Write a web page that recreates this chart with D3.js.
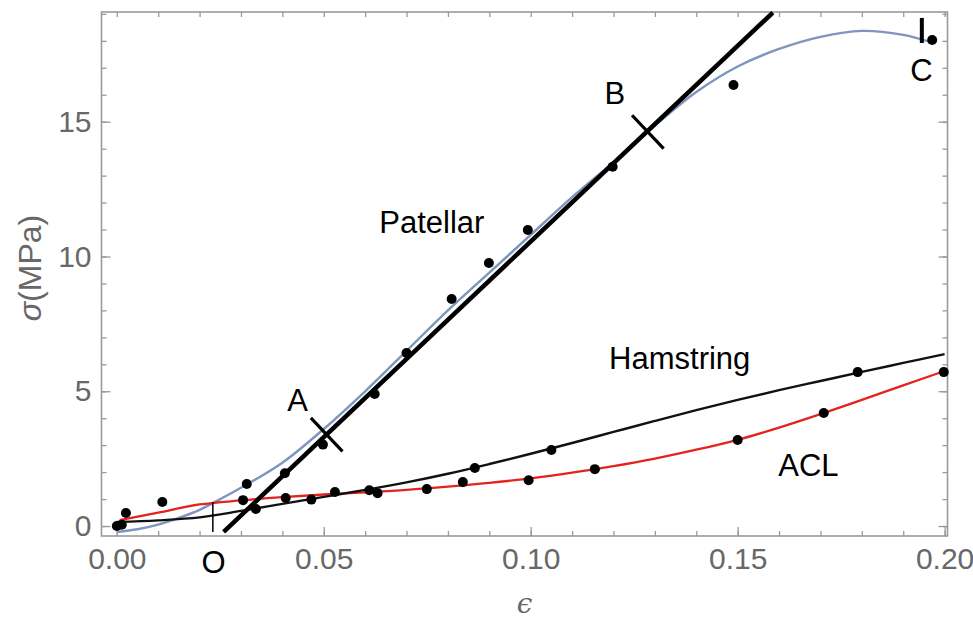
<!DOCTYPE html>
<html>
<head>
<meta charset="utf-8">
<style>
  body { margin: 0; background: #fff; }
  svg { display: block; }
  .tick text { font-family: "Liberation Sans", Arial, sans-serif; }
</style>
</head>
<body>
<div id="chart"></div>
<script src="https://d3js.org/d3.v7.min.js"></script>
<script>
// measured points (strain, stress in MPa)
var patellarE = [0, 0.0314, 0.0406, 0.0498, 0.0623, 0.0700, 0.0809, 0.0899, 0.0993, 0.1198, 0.149, 0.197]
var patellarS = [0, 1.56, 1.96, 3.02, 4.90, 6.42, 8.42, 9.76, 10.98, 13.33, 16.36, 18.03]
var hamE = [0.0012, 0.0336, 0.047, 0.061, 0.0865, 0.105, 0.179]
var hamS = [0.05, 0.63, 0.98, 1.33, 2.15, 2.82, 5.71]
var aclE = [0.0022, 0.011, 0.0305, 0.0408, 0.0527, 0.063, 0.0749, 0.0836, 0.0995, 0.1155, 0.15, 0.1708, 0.1998]
var aclS = [0.48, 0.89, 0.96, 1.04, 1.26, 1.22, 1.37, 1.63, 1.70, 2.11, 3.19, 4.19, 5.71]

// fitted curves
var patFitE = [0, 0.005, 0.01, 0.015, 0.02, 0.025, 0.03, 0.04, 0.05, 0.06, 0.07, 0.08, 0.09, 0.10, 0.11, 0.12, 0.13, 0.14, 0.15, 0.16, 0.17, 0.18, 0.19, 0.1965]
var patFitS = [-0.22, -0.12, 0.05, 0.3, 0.6, 1.0, 1.42, 2.35, 3.6, 5.0, 6.5, 8.0, 9.4, 10.8, 12.2, 13.5, 14.85, 16.1, 17.05, 17.7, 18.15, 18.37, 18.22, 17.96]
var hamFitE = [0, 0.01, 0.02, 0.03, 0.04, 0.05, 0.06, 0.07, 0.08, 0.09, 0.10, 0.11, 0.12, 0.13, 0.14, 0.15, 0.16, 0.17, 0.18, 0.19, 0.20]
var hamFitS = [0.15, 0.21, 0.32, 0.56, 0.82, 1.08, 1.34, 1.62, 1.94, 2.3, 2.68, 3.08, 3.49, 3.9, 4.3, 4.68, 5.04, 5.38, 5.72, 6.05, 6.38]
var aclFitE = [0.0007, 0.01, 0.02, 0.03, 0.04, 0.05, 0.06, 0.07, 0.08, 0.09, 0.10, 0.11, 0.12, 0.13, 0.14, 0.15, 0.16, 0.17, 0.18, 0.19, 0.20]
var aclFitS = [0.22, 0.5, 0.8, 0.95, 1.07, 1.17, 1.25, 1.34, 1.46, 1.6, 1.77, 1.98, 2.22, 2.5, 2.83, 3.2, 3.65, 4.15, 4.68, 5.22, 5.75]

// straight linear-region line and its marks
var lineE = [0.0258, 0.1585]
var lineS = [-0.22, 19.05]
var crossE = [0.0507, 0.1283]   // A, B
var crossS = [3.39, 14.62]
var markC = {e: 0.1945, s: [17.92, 18.85]}
var markO = {e: 0.0232, s: [-0.22, 0.89]}

var labelText = ["Patellar", "Hamstring", "ACL", "A", "B", "C", "O"]
var labelE = [0.0761, 0.136, 0.1671, 0.0437, 0.1203, 0.1944, 0.0234]
var labelS = [11.28, 6.23, 2.26, 4.68, 16.07, 16.92, -1.34]

var xMajor = [0, 0.05, 0.10, 0.15, 0.20]
var yMajor = [0, 5, 10, 15]

var width = 973, height = 625

var svg = d3.select("#chart").append("svg")
  .attr("width", width)
  .attr("height", height)

var x = d3.scaleLinear().domain([-0.0037, 0.2007]).range([101.5, 947.5])
var y = d3.scaleLinear().domain([-0.37, 19.07]).range([536, 12])

var xMinor = d3.range(0, 21).map(function(i) { return i / 100 })
var yMinor = d3.range(0, 20)

var axisColor = "#9a9a9a"
var labelColor = "#686868"

function styleAxis(g) {
  g.select(".domain").remove()
  g.selectAll(".tick line").attr("stroke", axisColor).attr("stroke-width", 1.3)
  g.selectAll(".tick text").attr("fill", labelColor).style("font-size", "30px")
}

// minor ticks on all four sides
svg.append("g").attr("transform", "translate(0,536)")
  .call(d3.axisBottom(x).tickValues(xMinor).tickSize(-5).tickFormat(""))
  .call(styleAxis)
svg.append("g").attr("transform", "translate(0,12)")
  .call(d3.axisTop(x).tickValues(xMinor).tickSize(-5).tickFormat(""))
  .call(styleAxis)
svg.append("g").attr("transform", "translate(101.5,0)")
  .call(d3.axisLeft(y).tickValues(yMinor).tickSize(-5).tickFormat(""))
  .call(styleAxis)
svg.append("g").attr("transform", "translate(947.5,0)")
  .call(d3.axisRight(y).tickValues(yMinor).tickSize(-5).tickFormat(""))
  .call(styleAxis)

// major ticks with labels
svg.append("g").attr("transform", "translate(0,536)")
  .call(d3.axisBottom(x).tickValues(xMajor).tickSize(-9).tickPadding(12).tickFormat(d3.format(".2f")))
  .call(styleAxis)
svg.append("g").attr("transform", "translate(101.5,0)")
  .call(d3.axisLeft(y).tickValues(yMajor).tickSize(-9).tickPadding(10).tickFormat(d3.format("d")))
  .call(styleAxis)
svg.append("g").attr("transform", "translate(947.5,0)")
  .call(d3.axisRight(y).tickValues(yMajor).tickSize(-9).tickFormat(""))
  .call(styleAxis)

// frame
svg.append("rect")
  .attr("x", x.range()[0]).attr("y", y.range()[1])
  .attr("width", x.range()[1] - x.range()[0])
  .attr("height", y.range()[0] - y.range()[1])
  .attr("fill", "none")
  .attr("stroke", axisColor)
  .attr("stroke-width", 1.6)

// axis titles
svg.append("text")
  .attr("transform", "translate(41,268) rotate(-90)")
  .attr("text-anchor", "middle")
  .attr("font-family", "Liberation Sans, Arial, sans-serif")
  .style("font-size", "32px")
  .attr("fill", labelColor)
  .html('<tspan font-style="italic">σ</tspan>(MPa)')

svg.append("text")
  .attr("x", (x.range()[0] + x.range()[1]) / 2)
  .attr("y", 613)
  .attr("text-anchor", "middle")
  .attr("font-family", "DejaVu Serif, serif")
  .attr("font-style", "italic")
  .style("font-size", "28px")
  .attr("fill", labelColor)
  .text("ϵ")

var plot = svg.append("g")

function pairs(es, ss) {
  return es.map(function(e, i) { return [e, ss[i]] })
}

var curve = d3.line()
  .x(function(d) { return x(d[0]) })
  .y(function(d) { return y(d[1]) })
  .curve(d3.curveCatmullRom.alpha(0.5))

plot.append("path")
  .datum(pairs(patFitE, patFitS))
  .attr("d", curve)
  .attr("fill", "none")
  .attr("stroke", "#7d95bf")
  .attr("stroke-width", 2.4)

plot.append("path")
  .datum(pairs(aclFitE, aclFitS))
  .attr("d", curve)
  .attr("fill", "none")
  .attr("stroke", "#e3231c")
  .attr("stroke-width", 2.3)

plot.append("path")
  .datum(pairs(hamFitE, hamFitS))
  .attr("d", curve)
  .attr("fill", "none")
  .attr("stroke", "#111")
  .attr("stroke-width", 2.4)

// straight line fit
plot.append("line")
  .attr("x1", x(lineE[0])).attr("y1", y(lineS[0]))
  .attr("x2", x(lineE[1])).attr("y2", y(lineS[1]))
  .attr("stroke", "#000")
  .attr("stroke-width", 4.5)

// A and B cross marks, perpendicular to the line on screen
var ldx = x(lineE[1]) - x(lineE[0]), ldy = y(lineS[1]) - y(lineS[0])
var llen = Math.sqrt(ldx * ldx + ldy * ldy)
var px = -ldy / llen, py = ldx / llen, half = 23
plot.selectAll(".cross")
  .data(pairs(crossE, crossS))
  .enter().append("line")
  .attr("class", "cross")
  .attr("x1", function(d) { return x(d[0]) - px * half })
  .attr("y1", function(d) { return y(d[1]) - py * half })
  .attr("x2", function(d) { return x(d[0]) + px * half })
  .attr("y2", function(d) { return y(d[1]) + py * half })
  .attr("stroke", "#000")
  .attr("stroke-width", 3.2)

plot.append("line")
  .attr("x1", x(markC.e)).attr("x2", x(markC.e))
  .attr("y1", y(markC.s[0])).attr("y2", y(markC.s[1]))
  .attr("stroke", "#000")
  .attr("stroke-width", 4)

plot.append("line")
  .attr("x1", x(markO.e)).attr("x2", x(markO.e))
  .attr("y1", y(markO.s[0])).attr("y2", y(markO.s[1]))
  .attr("stroke", "#000")
  .attr("stroke-width", 1.5)

// dots
var dots = pairs(patellarE, patellarS).concat(pairs(hamE, hamS), pairs(aclE, aclS))
plot.selectAll(".dot")
  .data(dots)
  .enter().append("circle")
  .attr("class", "dot")
  .attr("cx", function(d) { return x(d[0]) })
  .attr("cy", function(d) { return y(d[1]) })
  .attr("r", 5)
  .attr("fill", "#000")

// text labels
svg.selectAll(".lbl")
  .data(labelText)
  .enter().append("text")
  .attr("class", "lbl")
  .attr("x", function(d, i) { return x(labelE[i]) })
  .attr("y", function(d, i) { return y(labelS[i]) })
  .attr("dy", "0.36em")
  .attr("text-anchor", "middle")
  .attr("font-family", "Liberation Sans, Arial, sans-serif")
  .style("font-size", "31px")
  .attr("fill", "#000")
  .text(function(d) { return d })
</script>
</body>
</html>
